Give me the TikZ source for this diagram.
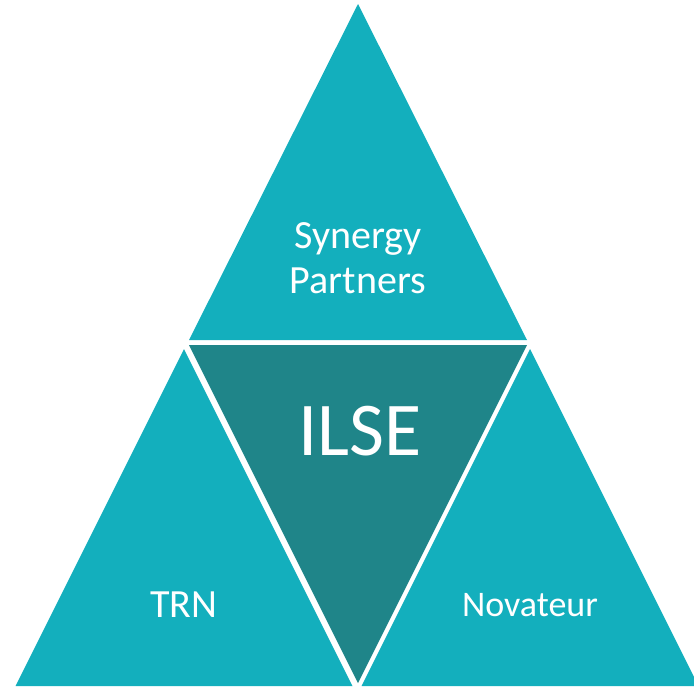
\documentclass[tikz,border=0pt]{standalone}
\usepackage{fontspec}
\setmainfont{Carlito}
\definecolor{tealLight}{RGB}{19,175,189}
\definecolor{tealDark}{RGB}{31,133,137}
\tikzset{
  lighttri/.style={fill=tealLight, draw=none},
  darktri/.style={fill=tealDark, draw=none},
  label/.style={text=white, inner sep=0pt, anchor=base},
}
\begin{document}
\begin{tikzpicture}[x=1pt,y=-1pt]
\useasboundingbox (0,0) rectangle (694,686);
\begin{scope}
\clip (0,0) rectangle (694,686);
% top triangle
\fill[lighttri] (358,4) -- (189,340) -- (527,340) -- cycle;
% center inverted triangle
\fill[darktri] (189,345) -- (527,345) -- (358,683) -- cycle;
% left triangle
\fill[lighttri] (184,349) -- (15.5,686) -- (352.5,686) -- cycle;
% right triangle
\fill[lighttri] (530,349) -- (361.5,686) -- (698.5,686) -- cycle;
\end{scope}
\node[label, font=\fontsize{40}{45}\selectfont] (syn) at (358,248) {Synergy};
\node[label, font=\fontsize{40}{45}\selectfont] (par) at (358,293) {Partners};
\node[label, font=\fontsize{76}{80}\selectfont] (ilse) at (360,455) {ILSE};
\node[label, font=\fontsize{40}{45}\selectfont] (trn) at (184,617) {TRN};
\node[label, font=\fontsize{36}{40}\selectfont] (nov) at (530,616) {Novateur};
\end{tikzpicture}
\end{document}
